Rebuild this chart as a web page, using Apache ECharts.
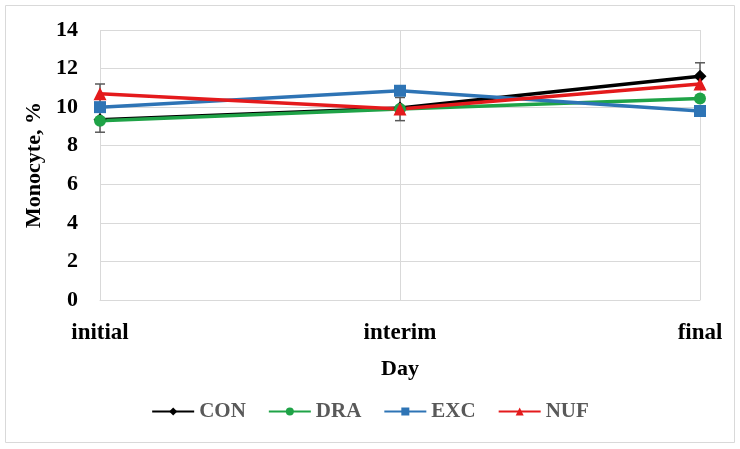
<!DOCTYPE html>
<html>
<head>
<meta charset="utf-8">
<script src="https://cdn.jsdelivr.net/npm/echarts@6/dist/echarts.min.js"></script>
<style>
  html, body { margin: 0; padding: 0; background: #fff; }
  #chart { width: 740px; height: 449px; }
</style>
</head>
<body>
<div id="chart"></div>
<script>
const days = ['initial', 'interim', 'final']
const con = [9.35, 9.95, 11.6]
const dra = [9.3, 9.9, 10.45]
const exc = [10.0, 10.85, 9.8]
const nuf = [10.7, 9.9, 11.2]
// error bars (CON)
const errLow = [8.7, 9.3, 11.0]
const errHigh = [11.2, 10.5, 12.3]

const serif = '"Liberation Serif", "DejaVu Serif", serif'
const chart = echarts.init(document.getElementById('chart'))

function lineSeries(name, data, color, symbol, size) {
  return {
    name: name,
    type: 'line',
    data: data,
    symbol: symbol,
    symbolSize: size,
    lineStyle: { color: color, width: 3.5 },
    itemStyle: { color: color },
    z: 3
  }
}

chart.setOption({
  animation: false,
  grid: { left: 100, right: 40, top: 30, bottom: 149 },
  xAxis: {
    type: 'category',
    data: days,
    boundaryGap: false,
    name: 'Day',
    nameLocation: 'middle',
    nameGap: 58,
    nameTextStyle: { fontFamily: serif, fontWeight: 'bold', fontSize: 22, color: '#000' },
    axisLine: { show: true, lineStyle: { color: '#d9d9d9' } },
    axisTick: { show: false },
    axisLabel: { fontFamily: serif, fontWeight: 'bold', fontSize: 23, color: '#000', margin: 22 },
    splitLine: { show: true, lineStyle: { color: '#d9d9d9' } }
  },
  yAxis: {
    type: 'value',
    min: 0,
    max: 14,
    interval: 2,
    name: 'Monocyte, %',
    nameLocation: 'middle',
    nameGap: 52,
    nameTextStyle: { fontFamily: serif, fontWeight: 'bold', fontSize: 22, color: '#000' },
    axisLine: { show: false },
    axisTick: { show: false },
    axisLabel: { fontFamily: serif, fontWeight: 'bold', fontSize: 22, color: '#000', margin: 22 },
    splitLine: { lineStyle: { color: '#d9d9d9' } }
  },
  legend: {
    bottom: 22,
    left: 'center',
    itemWidth: 42,
    itemHeight: 10,
    itemGap: 22,
    textStyle: { fontFamily: serif, fontWeight: 'bold', fontSize: 21, color: '#595959' },
    data: ['CON', 'DRA', 'EXC', 'NUF']
  },
  graphic: [{
    type: 'rect',
    shape: { x: 5.5, y: 5.5, width: 729, height: 437 },
    style: { fill: 'none', stroke: '#d9d9d9', lineWidth: 1 },
    silent: true
  }],
  series: [
    {
      type: 'custom',
      name: 'err',
      z: 2,
      renderItem: function (params, api) {
        const x = api.coord([api.value(0), api.value(1)])[0]
        const lo = api.coord([api.value(0), api.value(1)])[1]
        const hi = api.coord([api.value(0), api.value(2)])[1]
        const style = { stroke: '#595959', lineWidth: 1.5 }
        return {
          type: 'group',
          children: [
            { type: 'line', shape: { x1: x, y1: lo, x2: x, y2: hi }, style: style },
            { type: 'line', shape: { x1: x - 5, y1: lo, x2: x + 5, y2: lo }, style: style },
            { type: 'line', shape: { x1: x - 5, y1: hi, x2: x + 5, y2: hi }, style: style }
          ]
        }
      },
      data: days.map(function (d, i) { return [i, errLow[i], errHigh[i]] })
    },
    lineSeries('CON', con, '#000000', 'diamond', 13),
    lineSeries('DRA', dra, '#1fa347', 'circle', 12),
    lineSeries('EXC', exc, '#2e74b5', 'rect', 12),
    lineSeries('NUF', nuf, '#e41a1c', 'triangle', 13)
  ]
})
</script>
</body>
</html>
